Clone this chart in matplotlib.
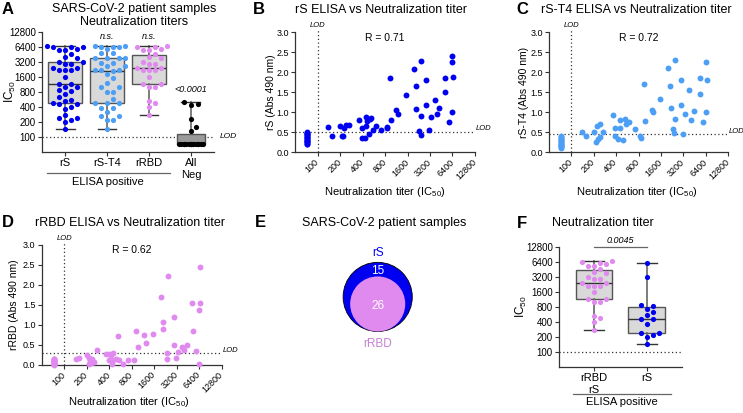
import numpy as np
import matplotlib.pyplot as plt
from matplotlib.patches import Circle
from matplotlib.ticker import NullLocator
from matplotlib.transforms import blended_transform_factory

plt.rcParams['font.family'] = ['Liberation Sans', 'DejaVu Sans']
plt.rcParams['mathtext.fontset'] = 'custom'
plt.rcParams['mathtext.rm'] = 'Liberation Sans'
plt.rcParams['mathtext.it'] = 'Liberation Sans:italic'

W, H = 743, 413

c_rs = '#0000f0'
c_t4 = '#4d9ef5'
c_rbd = '#e08af0'

# titers below the LOD are drawn at this value
below_lod = 72
titer_ticks = [100, 200, 400, 800, 1600, 3200, 6400, 12800]

# neutralization IC50, ELISA positive groups
ic50_rrbd = [6700, 6300, 6400, 5930, 5480, 5480, 4080, 4600, 3850, 2970, 2970, 3200,
             2460, 2460, 2170, 2170, 2170, 1570, 1170, 1170, 990, 990, 527, 472, 392, 277]
ic50_rs_only = [6300, 3200, 888, 852, 730, 623, 553, 459, 459, 365, 241, 241, 223, 200, 142]
ic50_rst4 = [6600, 6400, 6500, 6400, 6600, 5760, 4790, 4790, 3800, 3800, 3800, 3800,
             3010, 3010, 2650, 2650, 2210, 2210, 2210, 1800, 2100, 1510, 1200, 990, 990,
             790, 790, 580, 472, 472, 472, 385, 385, 313, 264, 264, 219, 219, 142]
ic50_neg = [below_lod] * 16 + [497, 470, 440, 230, 161, 130]

cat_a = ['rS', 'rS-T4', 'rRBD', 'All\nNeg']
cat_f = ['rRBD\nrS', 'rS']

# ELISA (Abs 490 nm) vs neutralization titer
titer_b = [140, 158, 200, 218, 212, 229, 241, 264, 359, 389, 394, 436, 440, 455, 448, 488,
           503, 520, 547, 606, 705, 840, 855, 958, 920, 1140, 1210, 1520, 1940, 2080, 2100,
           2260, 2400, 2400, 2400, 2860, 2860, 3100, 3270, 3700, 3930, 4270, 5130, 5130,
           5680, 6280, 6400, 6500, 6280]
abs_b = [0.63, 0.42, 0.67, 0.40, 0.42, 0.60, 0.68, 0.68, 0.82, 0.60, 0.37, 0.37, 0.89, 0.79,
         0.67, 0.47, 0.83, 0.85, 0.57, 0.67, 0.55, 0.62, 0.64, 0.80, 1.85, 1.07, 0.97, 1.44,
         2.09, 1.67, 1.08, 0.53, 0.43, 2.29, 0.92, 1.80, 1.18, 0.55, 0.88, 1.32, 0.96, 1.11,
         1.85, 1.50, 0.75, 2.27, 2.41, 1.88, 1.02]
neg_b = [0.21, 0.22, 0.25, 0.26, 0.28, 0.31, 0.32, 0.35, 0.37, 0.38, 0.41, 0.43, 0.45, 0.46, 0.49, 0.50]

titer_c = [139, 157, 200, 213, 229, 241, 222, 239, 267, 358, 388, 388, 426, 450, 455, 488,
           520, 550, 600, 715, 835, 860, 938, 977, 1200, 1240, 1560, 1980, 2120, 2160, 2350,
           2430, 2480, 2460, 2960, 2960, 3200, 3360, 3870, 4080, 4470, 5340, 5380, 5860,
           6570, 6700, 6570]
abs_c = [0.52, 0.40, 0.50, 0.25, 0.33, 0.38, 0.66, 0.72, 0.52, 0.93, 0.62, 0.42, 0.33, 0.82,
         0.62, 0.32, 0.84, 0.71, 0.75, 0.58, 0.41, 0.37, 1.72, 0.78, 1.07, 1.01, 1.34, 2.10,
         1.67, 1.12, 0.58, 0.48, 2.32, 0.84, 1.80, 1.18, 0.45, 0.97, 1.56, 0.81, 1.03, 1.85,
         1.47, 0.75, 2.25, 1.82, 1.01]
neg_c = [0.12, 0.14, 0.15, 0.17, 0.19, 0.20, 0.22, 0.24, 0.25, 0.28, 0.30, 0.31, 0.34, 0.36, 0.38, 0.41]

titer_d = [143, 160, 201, 218, 223, 230, 239, 247, 215, 274, 365, 397, 395, 426, 448, 440,
           455, 486, 524, 544, 610, 711, 846, 927, 978, 1160, 1240, 1550, 1980, 2110, 2130,
           2410, 2390, 2460, 2900, 2920, 3150, 3280, 3790, 4030, 4380, 5200, 5320, 5720,
           6600, 6650, 6400, 6450]
abs_d = [0.14, 0.18, 0.26, 0.17, 0.11, 0.04, 0.15, 0.08, 0.02, 0.38, 0.28, 0.28, 0.12, 0.24,
         0.29, 0.03, 0.12, 0.16, 0.73, 0.12, 0.03, 0.13, 0.13, 0.84, 0.46, 0.74, 0.55, 0.77,
         1.70, 1.07, 0.91, 0.29, 0.14, 2.22, 0.51, 1.20, 0.17, 0.32, 0.44, 0.37, 0.50, 1.54,
         0.84, 0.36, 2.44, 1.56, 1.37, 0.02]
neg_d = [0.01, 0.02, 0.02, 0.03, 0.05, 0.05, 0.06, 0.08, 0.08, 0.09, 0.11, 0.12, 0.12, 0.14, 0.15, 0.16]

elisa_lod = {'B': 0.52, 'C': 0.45, 'D': 0.29}
r_values = {'B': 0.71, 'C': 0.72, 'D': 0.62}


def fx(x):
    return x / W


def fy(y):
    return 1 - y / H


def rect(l, t, r, b):
    return [l / W, 1 - b / H, (r - l) / W, (b - t) / H]


def style(ax, labelsize=7):
    for s in ('top', 'right'):
        ax.spines[s].set_visible(False)
    for s in ('left', 'bottom'):
        ax.spines[s].set_linewidth(0.9)
        ax.spines[s].set_color('#333333')
    ax.tick_params(direction='out', length=3, width=0.8, color='#333333',
                   labelsize=labelsize, pad=1.5)


def titer_axis(axis):
    if axis.axis_name == 'y':
        axis.axes.set_yscale('log', base=2)
    else:
        axis.axes.set_xscale('log', base=2)
    axis.set_ticks(titer_ticks, labels=[str(t) for t in titer_ticks])
    axis.set_minor_locator(NullLocator())


def swarm(ax, x0, vals, d=6.0, max_k=6):
    # simple beeswarm in pixel space
    vals = np.asarray(vals, float)
    disp = ax.transData.transform(np.column_stack([np.full(len(vals), x0), vals]))
    ypx = disp[:, 1]
    x0px = disp[0, 0]
    ks = [0]
    for k in range(1, max_k + 1):
        ks += [k, -k]
    placed = []
    xs = np.zeros(len(vals))
    n_full = 0
    for i in np.argsort(ypx, kind='stable'):
        xp = None
        for k in ks:
            cand = x0px + k * d
            if all((cand - px) ** 2 + (ypx[i] - py) ** 2 >= 5.7 ** 2 for px, py in placed):
                xp = cand
                break
        if xp is None:
            xp = x0px + ks[n_full % len(ks)] * d
            n_full += 1
        placed.append((xp, ypx[i]))
        xs[i] = xp
    return ax.transData.inverted().transform(np.column_stack([xs, ypx]))[:, 0]


def box_panel(ax, groups, colors, widths, xlim, capw):
    bp = ax.boxplot(groups, positions=range(len(groups)), widths=widths, whis=(0, 100),
                    patch_artist=True, showfliers=False, capwidths=capw,
                    boxprops=dict(facecolor='#d9d9d9', edgecolor='#555555', linewidth=1),
                    medianprops=dict(color='#333333', linewidth=1),
                    whiskerprops=dict(color='#666666', linewidth=1.2),
                    capprops=dict(color='#333333', linewidth=1))
    ax.set_xlim(*xlim)
    ax.set_ylim(50, 12800)
    for i, (vals, col) in enumerate(zip(groups, colors)):
        if col == 'black':
            xs = swarm(ax, i, vals, d=2.4, max_k=5)
        else:
            xs = swarm(ax, i, vals)
        ax.scatter(xs, vals, s=14, color=col, linewidths=0, zorder=3, clip_on=False)
    ax.axhline(100, color='#333333', lw=0.9, ls=(0, (1, 2)), zorder=1)
    return bp


fig = plt.figure(figsize=(W / 100, H / 100), dpi=100)

# ---------------- A
axA = fig.add_axes(rect(42, 32, 214, 152))
style(axA)
titer_axis(axA.yaxis)
ic50_rs = ic50_rrbd + ic50_rs_only
bp = box_panel(axA, [ic50_rs, ic50_rst4, ic50_rrbd, ic50_neg],
               [c_rs, c_t4, c_rbd, 'black'], [0.8, 0.8, 0.8, 0.65], (-0.55, 3.55), 0.45)
bp['boxes'][3].set_facecolor('#9a9a9a')
axA.set_xticks(range(4), labels=cat_a)
axA.tick_params(axis='x', labelsize=8)
axA.tick_params(axis='y', labelsize=7)
axA.set_ylabel('IC$_{50}$', fontsize=8.5)
axA.yaxis.label.set_va('center')
axA.yaxis.set_label_coords((10 - 42) / 172, 0.5)
for x in (1, 2):
    axA.annotate('n.s.', xy=(x, 12800), xytext=(0, -3.4), textcoords='offset points',
                 ha='center', va='center', fontsize=6.5, style='italic', annotation_clip=False)
axA.text(3, 905, '<0.0001', ha='center', va='center', fontsize=6.5, style='italic')
axA.annotate('LOD', xy=(1, 100), xycoords=('axes fraction', 'data'), xytext=(4, 0),
             textcoords='offset points', ha='left', va='center', fontsize=6, style='italic')
trA = blended_transform_factory(axA.transData, axA.transAxes)
axA.plot([-0.43, 2.5], [-0.175, -0.175], transform=trA, clip_on=False, color='#666666', lw=0.9)
axA.text(1.03, -0.25, 'ELISA positive', transform=trA, ha='center', va='center', fontsize=8)
fig.text(fx(134), fy(15.5), 'SARS-CoV-2 patient samples\nNeutralization titers',
         ha='center', va='center', fontsize=9, linespacing=1.1)
fig.text(fx(1.5), fy(10), 'A', fontsize=12, fontweight='bold', va='center', ha='left')


# ---------------- B, C, D
def scatter_panel(ax, key, titer, absv, neg, color, ylab):
    style(ax, 6.5)
    titer_axis(ax.xaxis)
    ax.set_xlim(50, 12800)
    ax.set_ylim(0, 3.0)
    ax.set_yticks([0, 0.5, 1.0, 1.5, 2.0, 2.5, 3.0],
                  labels=['0.0', '0.5', '1.0', '1.5', '2.0', '2.5', '3.0'])
    for lab in ax.get_xticklabels():
        lab.set_rotation(45)
        lab.set_ha('right')
        lab.set_va('center')
        lab.set_rotation_mode('anchor')
    ax.tick_params(axis='x', pad=3)
    ax.scatter(list(titer) + [below_lod] * len(neg), list(absv) + list(neg), s=18,
               color=color, linewidths=0, zorder=3, clip_on=False)
    lod = elisa_lod[key]
    ax.plot([50, 12800], [lod, lod], color='#333333', lw=0.9, ls=(0, (1, 2)), clip_on=False)
    ax.plot([100, 100], [0, 3.05], color='#333333', lw=0.9, ls=(0, (1, 2)), clip_on=False)
    ax.annotate('LOD', xy=(12800, lod), xytext=(0.5, 2), textcoords='offset points',
                ha='left', va='center', fontsize=5.5, style='italic', annotation_clip=False)
    ax.annotate('LOD', xy=(100, 3.0), xytext=(0, 5), textcoords='offset points',
                ha='center', va='center', fontsize=5.5, style='italic', annotation_clip=False)
    ax.text(0.5, 0.955, 'R = %.2f' % r_values[key], transform=ax.transAxes,
            ha='center', va='center', fontsize=7.5)
    ax.set_ylabel(ylab, fontsize=7.5)
    ax.set_xlabel('Neutralization titer (IC$_{50}$)', fontsize=8)
    ax.xaxis.label.set_va('center')
    ax.yaxis.label.set_va('center')


axB = fig.add_axes(rect(295, 32.3, 475, 152.3))
scatter_panel(axB, 'B', titer_b, abs_b, neg_b, c_rs, 'rS (Abs 490 nm)')
axB.xaxis.set_label_coords(0.5, -0.333)
axB.yaxis.set_label_coords((271 - 295) / 180, 0.5)
fig.text(fx(381), fy(10), 'rS ELISA vs Neutralization titer', ha='center', va='center', fontsize=9)
fig.text(fx(253), fy(10), 'B', fontsize=12, fontweight='bold', va='center', ha='left')

axC = fig.add_axes(rect(549, 32.3, 728, 152.3))
scatter_panel(axC, 'C', titer_c, abs_c, neg_c, c_t4, 'rS-T4 (Abs 490 nm)')
axC.xaxis.set_label_coords((637 - 549) / 179, -0.333)
axC.yaxis.set_label_coords((524 - 549) / 179, 0.5)
fig.text(fx(636.7), fy(10), 'rS-T4 ELISA vs Neutralization titer', ha='center', va='center', fontsize=9)
fig.text(fx(516.5), fy(10), 'C', fontsize=12, fontweight='bold', va='center', ha='left')

axD = fig.add_axes(rect(41.7, 245, 221.7, 365))
scatter_panel(axD, 'D', titer_d, abs_d, neg_d, c_rbd, 'rRBD (Abs 490 nm)')
axD.xaxis.set_label_coords((128.8 - 41.7) / 180, -0.307)
axD.yaxis.set_label_coords((14 - 41.7) / 180, 0.5)
fig.text(fx(130), fy(222.7), 'rRBD ELISA vs Neutralization titer', ha='center', va='center', fontsize=9)
fig.text(fx(1.5), fy(222.7), 'D', fontsize=12, fontweight='bold', va='center', ha='left')

# ---------------- E (Venn)
axE = fig.add_axes(rect(318, 240, 438, 360))
axE.set_xlim(318, 438)
axE.set_ylim(360, 240)
axE.axis('off')
n_both = len(ic50_rrbd)
n_all = n_both + len(ic50_rs_only)
k = 5.4
r_all, r_both = k * np.sqrt(n_all), k * np.sqrt(n_both)
cx, base = 377.7, 331.5
axE.add_patch(Circle((cx, base - r_all), r_all, facecolor=c_rs, edgecolor='black', lw=0.6))
axE.add_patch(Circle((cx, base - r_both), r_both, facecolor=c_rbd, edgecolor='none'))
axE.text(cx, base - r_all - r_both + 1.5, str(len(ic50_rs_only)), color='white', ha='center',
         va='center', fontsize=8.5)
axE.text(cx, base - r_both + 2, str(n_both), color='white', ha='center', va='center', fontsize=8.5)
axE.text(cx, base - 2 * r_all - 9, 'rS', color=c_rs, ha='center', va='center', fontsize=8.5)
axE.text(cx, base + 12.5, 'rRBD', color='#c87fd6', ha='center', va='center', fontsize=8.5)
fig.text(fx(384), fy(222.7), 'SARS-CoV-2 patient samples', ha='center', va='center', fontsize=9)
fig.text(fx(255), fy(222.7), 'E', fontsize=12, fontweight='bold', va='center', ha='left')

# ---------------- F
axF = fig.add_axes(rect(559, 247.3, 681.7, 366.7))
style(axF)
titer_axis(axF.yaxis)
box_panel(axF, [ic50_rrbd, ic50_rs_only], [c_rbd, c_rs], [0.68, 0.7], (-0.66, 1.66), 0.38)
axF.set_xticks(range(2), labels=cat_f)
axF.tick_params(axis='x', labelsize=8)
axF.tick_params(axis='y', labelsize=7)
axF.set_ylabel('IC$_{50}$', fontsize=8.5)
axF.yaxis.label.set_va('center')
axF.yaxis.set_label_coords((521 - 559) / 122.7, 0.5)
axF.plot([0, 1], [12800, 12800], color='#666666', lw=0.9, clip_on=False)
axF.annotate('0.0045', xy=(0.5, 12800), xytext=(0, 1.5), textcoords='offset points',
             ha='center', va='bottom', fontsize=6.5, style='italic', annotation_clip=False)
trF = blended_transform_factory(axF.transData, axF.transAxes)
axF.plot([-0.4, 1.46], [-0.229, -0.229], transform=trF, clip_on=False, color='#666666', lw=0.9)
axF.text(0.53, -0.298, 'ELISA positive', transform=trF, ha='center', va='center', fontsize=8)
fig.text(fx(602.5), fy(223.3), 'Neutralization titer', ha='center', va='center', fontsize=9)
fig.text(fx(516.5), fy(223.3), 'F', fontsize=12, fontweight='bold', va='center', ha='left')

fig.savefig('out.png', dpi=100)
